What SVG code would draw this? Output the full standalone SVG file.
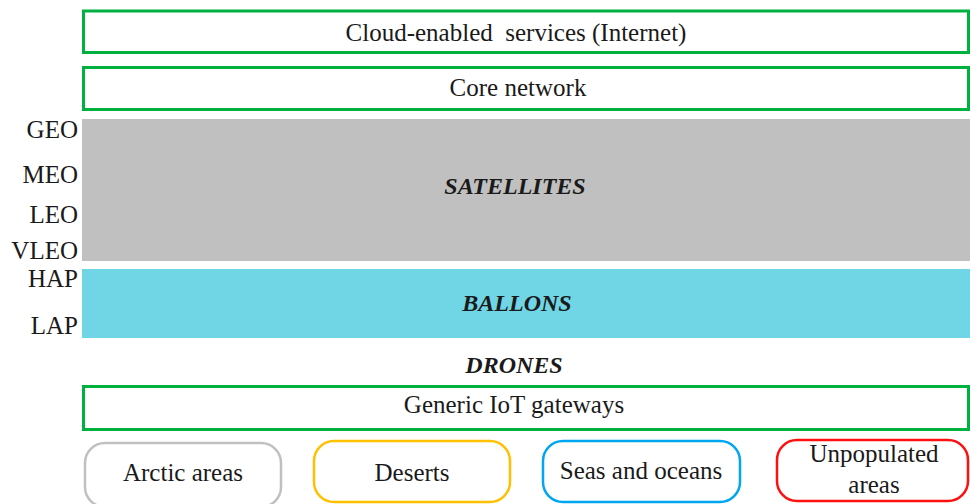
<svg xmlns="http://www.w3.org/2000/svg" width="970" height="504" viewBox="0 0 970 504">
<style>
text{font-family:"Liberation Serif","DejaVu Serif",serif;font-size:25px;fill:#1a1a1a}
.c{text-anchor:middle}
.r{text-anchor:end}
.bi{font-weight:bold;font-style:italic;font-size:24px}
.g{fill:#fff;stroke:#00b140;stroke-width:3}
.rb{fill:#fff;stroke-width:2.5}
.pre{white-space:pre}
</style>
<rect width="970" height="504" fill="#fff"/>
<g id="cloud"><rect class="g" x="83.5" y="11" width="885" height="41.5"/><text class="c pre" xml:space="preserve" x="516" y="41">Cloud-enabled  services (Internet)</text></g>
<g id="core"><rect class="g" x="83.5" y="67.5" width="885" height="42"/><text class="c" x="518" y="96">Core network</text></g>
<g id="satellites"><rect x="82" y="119" width="888" height="142" fill="#c0c0c0"/><text class="c bi" x="515" y="194">SATELLITES</text></g>
<g id="orbits"><text class="r" x="78" y="138">GEO</text><text class="r" x="78" y="183">MEO</text><text class="r" x="78" y="223">LEO</text><text class="r" x="78" y="259">VLEO</text><text class="r" x="78" y="287">HAP</text><text class="r" x="78" y="334">LAP</text></g>
<g id="ballons"><rect x="82" y="269" width="888" height="69" fill="#70d6e6"/><text class="c bi" x="517" y="311">BALLONS</text></g>
<g id="drones"><text class="c bi" x="514" y="373">DRONES</text></g>
<g id="gateways"><rect class="g" x="83.5" y="386.5" width="885" height="43"/><text class="c" x="514" y="413">Generic IoT gateways</text></g>
<g id="arctic"><rect class="rb" x="85" y="443" width="196" height="64" rx="20" stroke="#c0c0c0"/><text class="c" x="183" y="481">Arctic areas</text></g>
<g id="deserts"><rect class="rb" x="314" y="441" width="196" height="61" rx="20" stroke="#ffc000"/><text class="c" x="412" y="481">Deserts</text></g>
<g id="seas"><rect class="rb" x="543" y="441" width="197" height="61" rx="20" stroke="#00a6f0"/><text class="c" x="641" y="479">Seas and oceans</text></g>
<g id="unpopulated"><rect class="rb" x="777" y="440" width="191" height="61" rx="20" stroke="#ff1010"/><text class="c" x="874" y="462">Unpopulated</text><text class="c" x="874" y="493">areas</text></g>
<g id="connectors"></g>
</svg>
